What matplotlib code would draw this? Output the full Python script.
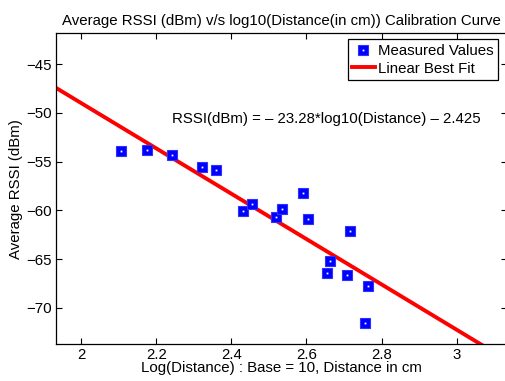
import matplotlib
matplotlib.use("Agg")
import matplotlib.pyplot as plt
import numpy as np
from matplotlib.legend_handler import HandlerTuple

plt.rcParams['font.family'] = ['Liberation Sans', 'DejaVu Sans']

log_distance = [2.105, 2.176, 2.243, 2.323, 2.360, 2.431, 2.455, 2.519, 2.535,
                2.592, 2.603, 2.715, 2.663, 2.654, 2.709, 2.763, 2.757]
rssi = [-53.87, -53.83, -54.31, -55.51, -55.85, -60.06, -59.31, -60.71, -59.89,
        -58.18, -60.88, -62.11, -65.19, -66.46, -66.66, -67.73, -71.53]
slope = -23.28
intercept = -2.425
xticks = [2, 2.2, 2.4, 2.6, 2.8, 3]
xtick_labels = ['2', '2.2', '2.4', '2.6', '2.8', '3']
yticks = [-70, -65, -60, -55, -50, -45]
xlim = (1.933, 3.134)
ylim = (-73.76, -41.82)

FS = 10.8

fig = plt.figure(figsize=(5.06, 3.81), dpi=100)
ax = fig.add_axes([0.1107, 0.0963, 0.8913, 0.8163])

fx = np.array(xlim)
line, = ax.plot(fx, slope * fx + intercept, color='red', lw=2.8, zorder=2)
sq, = ax.plot(log_distance, rssi, 's', ms=6.5, mfc='#0000ff', mec='#3030ff',
              mew=0.8, ls='none', zorder=3)
dot, = ax.plot(log_distance, rssi, 's', ms=1.3, mfc='white', mec='white',
               mew=0, ls='none', zorder=4)

ax.set_xlim(*xlim)
ax.set_ylim(*ylim)
ax.set_xticks(xticks)
ax.set_xticklabels(xtick_labels)
ax.set_yticks(yticks)
ax.tick_params(direction='in', length=4, width=0.8, top=True, right=True,
               labelsize=FS, pad=3)
for s in ax.spines.values():
    s.set_linewidth(0.9)

ax.set_title('Average RSSI (dBm) v/s log10(Distance(in cm)) Calibration Curve',
             fontsize=FS, pad=6)
ax.set_xlabel('Log(Distance) : Base = 10, Distance in cm', fontsize=FS, labelpad=-1)
ax.set_ylabel('Average RSSI (dBm)', fontsize=FS, labelpad=2)

ax.text(2.242, -51.03, 'RSSI(dBm) = \u2013 23.28*log10(Distance) \u2013 2.425',
        fontsize=FS, ha='left', va='baseline')

leg = ax.legend([(sq, dot), line], ['Measured Values', 'Linear Best Fit'],
                handler_map={tuple: HandlerTuple(ndivide=1, pad=0)},
                loc='upper right', bbox_to_anchor=(0.986, 0.99),
                fontsize=FS, frameon=True, fancybox=False, framealpha=1,
                edgecolor='black', handlelength=1.5, handletextpad=0.2,
                borderpad=0.3, labelspacing=0.25, borderaxespad=0.2)
leg.get_frame().set_linewidth(0.9)

fig.savefig('out.png', dpi=100)
